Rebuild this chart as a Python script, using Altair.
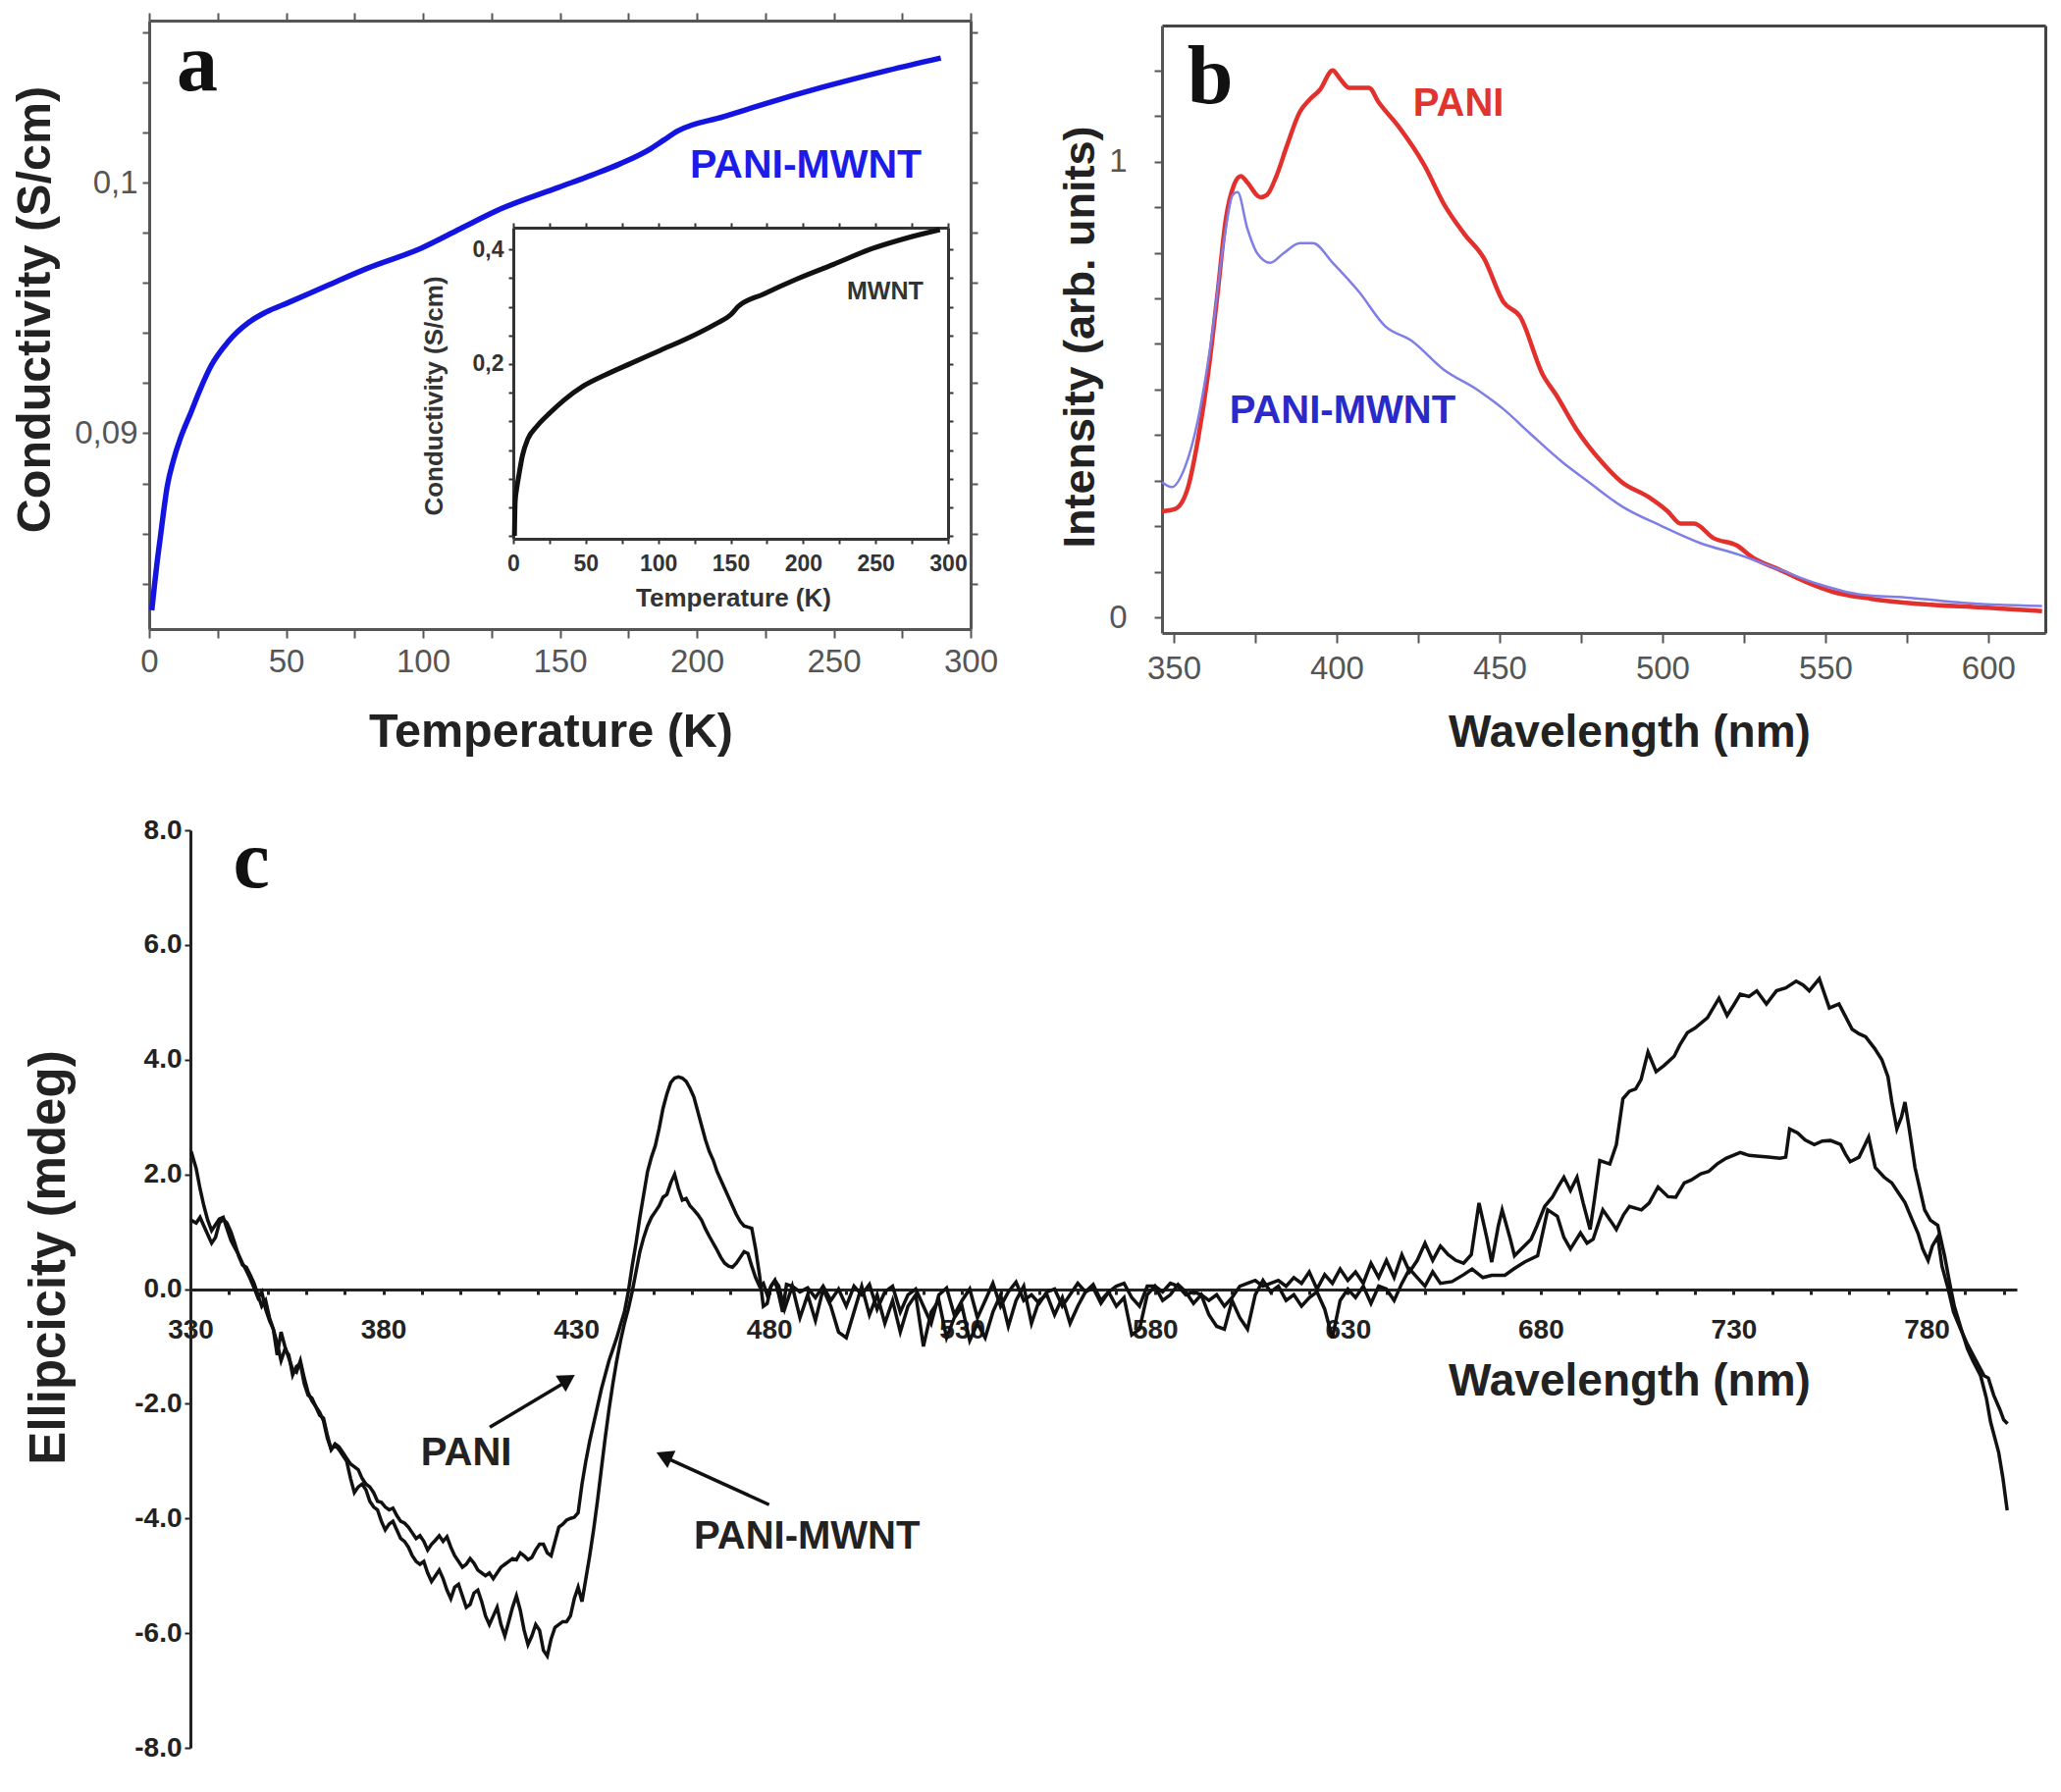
import json
import altair as alt
import pandas as pd

W, H = 2080, 1800
SANS = "Liberation Sans"
SERIF = "Liberation Serif"

# ---------------- Panel a : PANI-MWNT conductivity ----------------
a_temp = [0.96, 2.0, 3.0, 4.1, 5.3, 6.5, 8.8, 11.3, 13.0, 14.9, 18.5, 22.6, 28.9, 36.6, 42.6, 51.0,
          65.4, 79.9, 99.1, 113.5, 128.0, 149.6, 161.7, 172.0, 183.3, 188.0, 192.9, 209.8, 224.2,
          245.8, 269.9, 289.1]
a_cond = [0.08294, 0.08400, 0.08495, 0.08587, 0.08690, 0.08782, 0.08890, 0.08977, 0.09025, 0.09074,
          0.09172, 0.09269, 0.09366, 0.09444, 0.09483, 0.09522, 0.09591, 0.09659, 0.09737, 0.09815,
          0.09893, 0.09981, 0.10030, 0.10075, 0.10136, 0.10170, 0.10205, 0.10263, 0.10312, 0.10380,
          0.10448, 0.10497]
a_x_ticks = [0, 25, 50, 75, 100, 125, 150, 175, 200, 225, 250, 275, 300]
a_x_labels = [0, 50, 100, 150, 200, 250, 300]
a_y_ticks = [0.082, 0.084, 0.086, 0.088, 0.09, 0.092, 0.094, 0.096, 0.098, 0.1, 0.102, 0.104, 0.106]
a_y_labels = [0.09, 0.1]
a_x_domain = [0, 300]
a_y_domain = [0.08219, 0.10646]
a_series_label = ["PANI-MWNT"]
a_series_pos = [(239.8, 0.10067)]
a_letter = ["a"]
a_letter_pos = [(17.6, 0.10368)]

# inset : MWNT conductivity
in_temp = [0.8, 1.3, 2.5, 3.8, 6.3, 10, 16.5, 25.4, 35.5, 48, 63.5, 81, 101.5, 122, 139.6, 150,
           155, 172.6, 195.4, 221, 246, 271.6, 294.4]
in_cond = [-0.100, -0.041, -0.015, 0.005, 0.040, 0.069, 0.092, 0.115, 0.138, 0.161, 0.181, 0.201,
           0.224, 0.247, 0.270, 0.286, 0.300, 0.322, 0.348, 0.374, 0.400, 0.420, 0.4346]
in_x_ticks = [0, 25, 50, 75, 100, 125, 150, 175, 200, 225, 250, 275, 300]
in_x_labels = [0, 50, 100, 150, 200, 250, 300]
in_y_ticks = [-0.1, -0.05, 0, 0.05, 0.1, 0.15, 0.2, 0.25, 0.3, 0.35, 0.4]
in_y_labels = [0.2, 0.4]
in_x_domain = [0, 300]
in_y_domain = [-0.105, 0.438]
in_label = ["MWNT"]
in_label_pos = [(256.6, 0.3267)]

# ---------------- Panel b : photoluminescence ----------------
b_pani_wl = [346.4, 350.4, 354.4, 357.5, 360.5, 363.5, 366.0, 368.5, 370.6, 372.6, 376.6, 378.6,
             381.6, 384.7, 388.7, 391.7, 394.8, 398.8, 400.8, 403.8, 409.9, 412.9, 419.0, 427.0,
             433.0, 439.1, 445.2, 451.2, 456.3, 463.3, 467.3, 473.4, 481.5, 487.5, 495.6, 501.6,
             505.6, 509.7, 515.7, 522.8, 527.8, 535.9, 544.0, 552.0, 564.1, 578.2, 598.4, 616.5]
b_pani_int = [0.233, 0.238, 0.286, 0.393, 0.532, 0.714, 0.874, 0.949, 0.968, 0.954, 0.922, 0.927,
              0.970, 1.034, 1.109, 1.136, 1.157, 1.200, 1.184, 1.162, 1.162, 1.130, 1.077, 0.991,
              0.906, 0.842, 0.788, 0.692, 0.660, 0.532, 0.489, 0.415, 0.340, 0.297, 0.265, 0.233,
              0.206, 0.206, 0.174, 0.158, 0.131, 0.105, 0.078, 0.057, 0.041, 0.030, 0.022, 0.014]
b_mwnt_wl = [346.4, 349.4, 353.4, 357.5, 361.5, 365.5, 368.1, 369.6, 372.6, 375.6, 379.6, 383.7,
             388.7, 392.7, 398.8, 406.9, 414.9, 423.0, 433.0, 443.1, 451.2, 459.3, 469.4, 477.4,
             487.5, 499.6, 511.7, 523.8, 535.9, 548.0, 560.1, 576.2, 592.3, 616.5]
b_mwnt_int = [0.297, 0.286, 0.329, 0.436, 0.607, 0.831, 0.927, 0.933, 0.853, 0.799, 0.778, 0.799,
              0.821, 0.821, 0.778, 0.714, 0.639, 0.607, 0.543, 0.500, 0.457, 0.404, 0.340, 0.297,
              0.244, 0.201, 0.163, 0.137, 0.105, 0.073, 0.051, 0.043, 0.032, 0.025]
b_x_ticks = [350, 375, 400, 425, 450, 475, 500, 525, 550, 575, 600]
b_x_labels = [350, 400, 450, 500, 550, 600]
b_y_ticks = [0, 0.1, 0.2, 0.3, 0.4, 0.5, 0.6, 0.7, 0.8, 0.9, 1.0, 1.1, 1.2]
b_y_labels = [0, 1]
b_x_domain = [346.4, 617.5]
b_y_domain = [-0.034, 1.2985]
b_pani_label = ["PANI"]
b_pani_label_pos = [(437.4, 1.126)]
b_mwnt_label = ["PANI-MWNT"]
b_mwnt_label_pos = [(401.8, 0.4527)]
b_letter = ["b"]
b_letter_pos = [(361.2, 1.1285)]

# ---------------- Panel c : circular dichroism ----------------
c_pani = [
    (330.2, 2.40), (331.5, 2.10), (332.5, 1.75), (333.5, 1.45), (334.5, 1.20), (335.5, 1.02),
    (336.5, 1.12), (337.5, 1.22), (338.5, 1.25), (339.5, 1.05), (340.5, 0.85), (341.5, 0.72),
    (342.5, 0.60), (343.5, 0.45), (344.5, 0.32), (345.5, 0.18), (346.5, 0.02), (347.5, -0.15),
    (348.5, -0.05), (349.5, -0.35), (350.5, -0.55), (351.5, -0.70), (352.5, -1.15), (353.5, -0.75),
    (354.5, -1.00), (355.5, -1.20), (356.5, -1.40), (357.5, -1.45), (358.5, -1.25), (359.5, -1.55),
    (360.5, -1.80), (361.5, -1.95), (362.5, -2.05), (363.5, -2.15), (364.5, -2.30), (365.5, -2.60),
    (366.5, -2.80), (367.5, -2.70), (368.5, -2.75), (369.5, -2.85), (370.5, -2.95), (371.5, -3.05),
    (372.5, -3.10), (373.5, -3.15), (374.5, -3.30), (375.5, -3.40), (376.5, -3.45), (377.5, -3.55),
    (378.5, -3.70), (379.5, -3.72), (380.5, -3.80), (381.5, -3.85), (382.5, -3.82), (383.5, -3.95),
    (384.5, -4.05), (385.5, -4.08), (386.5, -4.15), (387.5, -4.25), (388.5, -4.35), (389.5, -4.30),
    (390.5, -4.40), (391.5, -4.55), (392.5, -4.45), (393.5, -4.38), (394.5, -4.30), (395.5, -4.40),
    (396.5, -4.32), (397.5, -4.50), (398.5, -4.65), (399.5, -4.75), (400.5, -4.85), (401.5, -4.80),
    (402.5, -4.70), (403.5, -4.78), (404.5, -4.90), (405.5, -4.95), (406.5, -5.00), (407.5, -4.95),
    (408.5, -5.05), (409.5, -4.95), (410.5, -4.85), (411.5, -4.80), (412.5, -4.75), (413.5, -4.70),
    (414.5, -4.72), (415.5, -4.60), (416.5, -4.65), (417.5, -4.72), (418.5, -4.68), (419.5, -4.55),
    (420.5, -4.45), (421.5, -4.45), (422.5, -4.60), (423.5, -4.65), (424.5, -4.40), (425.5, -4.15),
    (426.5, -4.10), (427.5, -4.03), (428.5, -4.00), (429.5, -3.98), (430.5, -3.90), (431.5, -3.40),
    (432.5, -3.00), (433.5, -2.65), (434.5, -2.35), (435.5, -2.05), (436.5, -1.75), (437.5, -1.50),
    (438.5, -1.25), (439.5, -1.05), (440.5, -0.85), (441.5, -0.62), (442.5, -0.40), (443.5, -0.05),
    (444.5, 0.40), (445.5, 0.80), (446.5, 1.25), (447.5, 1.65), (448.5, 2.05), (449.5, 2.30),
    (450.5, 2.50), (451.5, 2.80), (452.5, 3.15), (453.5, 3.40), (454.5, 3.60), (455.5, 3.68),
    (456.5, 3.70), (457.5, 3.68), (458.5, 3.62), (459.5, 3.50), (460.5, 3.35), (461.5, 3.10),
    (462.5, 2.85), (463.5, 2.60), (464.5, 2.40), (465.5, 2.25), (466.5, 2.05), (467.5, 1.90),
    (468.5, 1.75), (469.5, 1.60), (470.5, 1.45), (471.5, 1.30), (472.5, 1.18), (473.5, 1.10),
    (474.5, 1.08), (475.5, 1.06), (476.5, 0.70), (477.5, 0.25), (478.5, -0.30), (479.5, -0.25),
    (480.5, 0.05), (481.5, 0.15), (482.5, -0.10), (483.5, -0.40), (484.5, 0.08),
    (486, 0.05), (488, -0.05), (490, 0.02), (492, -0.15), (494, 0.05), (496, -0.2), (498, 0.0),
    (500, -0.3), (502, 0.05), (504, -0.1), (506, 0.08), (508, -0.35), (510, -0.05), (512, 0.05),
    (514, -0.4), (516, -0.1), (518, 0.0), (520, -0.3), (522, -0.6), (524, -0.1), (526, 0.02),
    (528, -0.45), (530, -0.2), (532, 0.0), (534, -0.5), (536, -0.2), (538, 0.1), (540, -0.3),
    (542, -0.05), (544, 0.12), (546, -0.2), (548, -0.1), (550, -0.25), (552, -0.05), (554, 0.0),
    (556, -0.3), (558, -0.1), (560, 0.1), (562, -0.05), (564, 0.02), (566, -0.25), (568, -0.05),
    (570, 0.05), (572, 0.1), (574, -0.15), (576, -0.3), (578, 0.05), (580, 0.05), (582, -0.05),
    (584, 0.1), (586, 0.05), (588, -0.1), (590, -0.05), (592, -0.1), (594, -0.2), (596, -0.1),
    (598, -0.3), (600, -0.15), (602, 0.05), (604, 0.1), (606, 0.15), (608, 0.05), (610, 0.1),
    (612, 0.15), (614, 0.05), (616, 0.2), (618, 0.1), (620, 0.3), (622, 0.0), (624, 0.25),
    (626, 0.1), (628, 0.35), (630, 0.15), (632, 0.3), (634, 0.1), (636, 0.45), (638, 0.2),
    (640, 0.5), (642, 0.2), (644, 0.6), (646, 0.3), (648, 0.5), (650, 0.8), (652, 0.5),
    (654, 0.75), (656, 0.6), (658, 0.5), (660, 0.45), (662, 0.6), (664, 1.5), (666, 0.9),
    (667.3, 0.47), (669, 1.1), (670, 1.38), (672, 0.9), (673.2, 0.58), (675, 0.7), (677.5, 0.87),
    (679, 1.1), (681, 1.44), (683, 1.6), (684.5, 1.78), (686, 1.95), (687.7, 1.72), (689.4, 1.95),
    (691, 1.5), (692.8, 1.04), (694, 1.6), (695.3, 2.24), (697.9, 2.18), (699.6, 2.52),
    (701.3, 3.32), (703, 3.45), (704.6, 3.49), (706, 3.65), (707.8, 4.13), (709.9, 3.79),
    (712, 3.9), (714.6, 4.06), (716, 4.25), (718, 4.47), (720, 4.55), (723.2, 4.73), (726.2, 5.07),
    (728.3, 4.77), (730, 4.95), (731.7, 5.14), (734, 5.1), (736, 5.2), (738.5, 4.97), (741.1, 5.2),
    (743.5, 5.25), (746.2, 5.37), (748, 5.3), (749.6, 5.2), (752.2, 5.41), (754.8, 4.9),
    (757.3, 4.97), (759, 4.75), (760.7, 4.53), (762.5, 4.45), (764.2, 4.4), (766.5, 4.2),
    (768.4, 4.0), (770, 3.7), (771, 3.26), (772.3, 2.79), (773.5, 3.0), (774.4, 3.26), (775.5, 2.8),
    (777, 2.12), (779.5, 1.38), (781, 1.2), (782.9, 1.11), (784.7, 0.57), (786, 0.1), (787.2, -0.3),
    (789, -0.7), (790.6, -1.04), (792, -1.25), (794, -1.51), (795.5, -1.9), (796.6, -2.32),
    (798.7, -2.85), (799.8, -3.3), (800.9, -3.86)]

c_mwnt = [
    (330.2, 1.20), (331.5, 1.15), (332.5, 1.25), (333.5, 1.10), (334.5, 0.95), (335.5, 0.80),
    (336.5, 0.90), (337.5, 1.15), (338.5, 1.22), (339.5, 1.15), (340.5, 1.00), (341.5, 0.80),
    (342.5, 0.58), (343.5, 0.42), (344.5, 0.38), (345.5, 0.25), (346.5, 0.10), (347.5, -0.10),
    (348.5, -0.30), (349.5, -0.20), (350.5, -0.50), (351.5, -0.70), (352.5, -0.95), (353.5, -1.25),
    (354.5, -1.05), (355.5, -1.15), (356.5, -1.50), (357.5, -1.35), (358.5, -1.30), (359.5, -1.65),
    (360.5, -1.85), (361.5, -1.90), (362.5, -2.05), (363.5, -2.20), (364.5, -2.25), (365.5, -2.55),
    (366.5, -2.80), (367.5, -2.72), (368.5, -2.80), (369.5, -2.90), (370.5, -3.00), (371.5, -3.30),
    (372.5, -3.55), (373.5, -3.45), (374.5, -3.40), (375.5, -3.50), (376.5, -3.70), (377.5, -3.80),
    (378.5, -3.85), (379.5, -4.05), (380.5, -4.20), (381.5, -4.10), (382.5, -4.05), (383.5, -4.20),
    (384.5, -4.35), (385.5, -4.40), (386.5, -4.50), (387.5, -4.65), (388.5, -4.75), (389.5, -4.80),
    (390.5, -4.75), (391.5, -4.95), (392.5, -5.10), (393.5, -5.00), (394.5, -4.90), (395.5, -5.05),
    (396.5, -5.25), (397.5, -5.40), (398.5, -5.20), (399.5, -5.15), (400.5, -5.35), (401.5, -5.55),
    (402.5, -5.50), (403.5, -5.30), (404.5, -5.25), (405.5, -5.45), (406.5, -5.70), (407.5, -5.85),
    (408.5, -5.70), (409.5, -5.55), (410.5, -5.85), (411.5, -6.05), (412.5, -5.80), (413.5, -5.55),
    (414.5, -5.35), (415.5, -5.60), (416.5, -5.95), (417.5, -6.20), (418.5, -6.05), (419.5, -5.85),
    (420.5, -5.95), (421.5, -6.30), (422.5, -6.40), (423.5, -6.10), (424.5, -5.90), (425.5, -5.85),
    (426.5, -5.80), (427.5, -5.80), (428.5, -5.70), (429.5, -5.40), (430.5, -5.20), (431.5, -5.45),
    (432.5, -5.05), (433.5, -4.65), (434.5, -4.20), (435.5, -3.70), (436.5, -3.15), (437.5, -2.60),
    (438.5, -2.10), (439.5, -1.65), (440.5, -1.25), (441.5, -0.90), (442.5, -0.60), (443.5, -0.35),
    (444.5, -0.05), (445.5, 0.30), (446.5, 0.65), (447.5, 0.90), (448.5, 1.10), (449.5, 1.25),
    (450.5, 1.35), (451.5, 1.45), (452.5, 1.60), (453.5, 1.65), (454.5, 1.85), (455.5, 2.00),
    (456.5, 1.75), (457.5, 1.55), (458.5, 1.58), (459.5, 1.45), (460.5, 1.38), (461.5, 1.30),
    (462.5, 1.20), (463.5, 1.05), (464.5, 0.92), (465.5, 0.80), (466.5, 0.68), (467.5, 0.55),
    (468.5, 0.45), (469.5, 0.40), (470.5, 0.38), (471.5, 0.45), (472.5, 0.55), (473.5, 0.65),
    (474.5, 0.62), (475.5, 0.40), (476.5, 0.20), (477.5, 0.05), (478.5, 0.10), (479.5, -0.10),
    (480.5, 0.05), (481.5, 0.15), (482.5, 0.05),
    (484, -0.35), (486, 0.05), (488, -0.5), (490, -0.1), (492, -0.55), (494, 0.0), (496, -0.3),
    (498, -0.75), (500, -0.85), (502, -0.4), (504, 0.05), (506, -0.45), (508, -0.1), (510, -0.6),
    (512, -0.2), (514, -0.75), (516, -0.3), (518, -0.1), (520, -1.0), (522, -0.4), (524, -0.2),
    (526, -0.85), (528, -0.5), (530, -0.3), (532, -0.9), (534, -0.6), (536, -0.85), (538, -0.4),
    (540, -0.1), (542, -0.65), (544, -0.2), (546, 0.05), (548, -0.6), (550, -0.2), (552, -0.1),
    (554, -0.45), (556, -0.15), (558, -0.6), (560, -0.3), (562, -0.05), (564, 0.08), (566, -0.2),
    (568, -0.05), (570, -0.3), (572, -0.15), (574, -0.8), (576, -0.7), (578, -0.1), (580, 0.05),
    (582, -0.2), (584, -0.1), (586, 0.08), (588, -0.05), (590, -0.25), (592, -0.1), (594, -0.45),
    (596, -0.65), (598, -0.7), (600, -0.2), (602, -0.5), (604, -0.7), (606, -0.1), (608, 0.15),
    (610, -0.05), (612, 0.05), (614, -0.2), (616, -0.1), (618, -0.3), (620, -0.15), (622, -0.05),
    (624, -0.35), (626, -0.85), (628, -0.2), (630, 0.0), (632, -0.15), (634, 0.05), (636, -0.25),
    (638, 0.05), (640, 0.0), (642, -0.2), (644, 0.1), (646, 0.35), (648, 0.2), (650, 0.05),
    (652, 0.3), (654, 0.1), (657, 0.13), (660, 0.25), (662.2, 0.35), (665, 0.2), (667.3, 0.24),
    (670.7, 0.24), (673, 0.35), (675.8, 0.47), (679.2, 0.58), (681.8, 1.38), (684.3, 1.27),
    (686, 0.9), (687.7, 0.7), (690.3, 0.98), (692, 0.8), (693.6, 0.87), (696.1, 1.38), (698, 1.2),
    (699.6, 1.04), (701.5, 1.3), (703, 1.44), (706.1, 1.38), (708.1, 1.5), (710.4, 1.78),
    (713, 1.61), (715, 1.6), (717.2, 1.85), (719, 1.9), (721.5, 2.01), (723.5, 2.05), (725.7, 2.18),
    (728, 2.28), (731.7, 2.38), (734, 2.33), (736, 2.32), (739, 2.3), (742, 2.28), (743.5, 2.3),
    (744.5, 2.79), (746.6, 2.72), (748.5, 2.6), (750.9, 2.52), (753, 2.58), (755.1, 2.59),
    (757.7, 2.52), (759, 2.35), (760.2, 2.22), (762.5, 2.3), (765, 2.65), (766.7, 2.12), (769, 1.95),
    (771, 1.85), (772.5, 1.7), (774.4, 1.51), (776, 1.25), (777.8, 0.97), (779, 0.7), (780.4, 0.5),
    (781.5, 0.75), (782.9, 0.91), (784, 0.4), (785.5, 0.03), (787, -0.4), (788.9, -0.71),
    (790.5, -0.95), (792.3, -1.18), (794.9, -1.51), (796, -1.55), (797.4, -1.85), (799, -2.1),
    (800, -2.28), (801, -2.35)]

c_x_ticks = list(range(330, 801, 10))
c_x_labels = [330, 380, 430, 480, 530, 580, 630, 680, 730, 780]
c_y_ticks = [-8, -6, -4, -2, 0, 2, 4, 6, 8]
c_x_domain = [330, 803.4]
c_y_domain = [-8, 8]
c_labels = ["PANI", "PANI-MWNT"]
c_label_pos = [(401.5, -2.86), (489.8, -4.32)]
c_arrow1 = [(407.6, -2.41, 426.5, -1.65)]
c_arrow2 = [(480.0, -3.76, 454.5, -2.98)]
c_head1 = [(427.2, -1.60)]
c_head2 = [(453.4, -2.93)]
c_letter = ["c"]
c_letter_pos = [(345.8, 7.0)]

# ---------------- helpers ----------------
def sc(domain, rng):
    return alt.Scale(domain=domain, range=rng, nice=False, zero=False)


def make_axis(orient, offset, values, major=None, fmt="datum.label", labels=True,
              ticks=True, tick_size=8, tick_width=2, color="#555", label_size=33,
              label_color="#555", label_weight="normal", label_pad=6, title=None,
              title_size=46, title_x=None, title_y=None, title_color="#222",
              title_weight="bold", domain_width=3):
    kw = dict(orient=orient, offset=offset, grid=False, domain=True, domainColor=color,
              domainWidth=domain_width, values=values)
    if labels:
        kw.update(labels=True, labelFont=SANS, labelFontSize=label_size, labelColor=label_color,
                  labelFontWeight=label_weight, labelPadding=label_pad, labelFlush=False,
                  labelOverlap=False)
        if major is not None:
            kw["labelExpr"] = f"indexof({json.dumps(major)}, datum.value) >= 0 ? {fmt} : ''"
        else:
            kw["labelExpr"] = fmt
    else:
        kw["labels"] = False
    if ticks:
        kw.update(ticks=True, tickSize=tick_size, tickWidth=tick_width, tickColor=color)
    else:
        kw["ticks"] = False
    if title is not None:
        kw.update(title=title, titleFont=SANS, titleFontSize=title_size,
                  titleFontWeight=title_weight, titleColor=title_color, titleX=title_x,
                  titleY=title_y, titleBaseline="middle", titleAlign="center")
        if orient in ("left", "right"):
            kw["titleAngle"] = 270
    else:
        kw["title"] = None
    return alt.Axis(**kw)


def pos_df(pos, labels=None):
    d = pd.DataFrame(pos, columns=["x", "y"])
    if labels is not None:
        d["label"] = labels
    return d


def text_layer(df, xs, ys, color, size, font=SANS, weight="bold", baseline="middle",
               xaxis=None, yaxis=None):
    return alt.Chart(df).mark_text(color=color, fontSize=size, font=font, fontWeight=weight,
                                   baseline=baseline, align="center").encode(
        x=alt.X("x:Q", scale=xs, axis=xaxis),
        y=alt.Y("y:Q", scale=ys, axis=yaxis),
        text="label:N",
    )


layers = []

# ---------------- Panel a ----------------
ax_sc = sc(a_x_domain, [144, 981])
ay_sc = sc(a_y_domain, [633, 13])
df_a = pd.DataFrame({"T": a_temp, "cond": a_cond})
layers.append(
    alt.Chart(df_a).mark_line(color="#1414e0", strokeWidth=5.5, interpolate="monotone").encode(
        x=alt.X("T:Q", scale=ax_sc, axis=make_axis(
            "bottom", 633 - H, a_x_ticks, a_x_labels, "format(datum.value, 'd')",
            tick_size=9, label_pad=8, title="Temperature (K)", title_size=48.5, title_x=553,
            title_y=104)),
        y=alt.Y("cond:Q", scale=ay_sc, axis=make_axis(
            "left", -144, a_y_ticks, a_y_labels, "replace(format(datum.value, '.2~f'), '.', ',')",
            tick_size=7, label_pad=5, title="Conductivity (S/cm)", title_size=48.5,
            title_x=-117, title_y=307)),
    )
)
layers.append(text_layer(
    pos_df(a_series_pos, a_series_label), ax_sc, ay_sc, "#1c1ce8", 41,
    xaxis=make_axis("top", -13, a_x_ticks, labels=False, tick_size=8),
    yaxis=make_axis("right", 981 - W, a_y_ticks, labels=False, tick_size=7)))
layers.append(text_layer(pos_df(a_letter_pos, a_letter), ax_sc, ay_sc, "#111", 84, font=SERIF,
                         baseline="alphabetic"))

# inset
ix_sc = sc(in_x_domain, [515, 958])
iy_sc = sc(in_y_domain, [541, 224])
df_in = pd.DataFrame({"T": in_temp, "cond": in_cond})
layers.append(
    alt.Chart(df_in).mark_line(color="#111", strokeWidth=5, interpolate="monotone").encode(
        x=alt.X("T:Q", scale=ix_sc, axis=make_axis(
            "bottom", 541 - H, in_x_ticks, in_x_labels, "format(datum.value, 'd')",
            tick_size=5, color="#333", label_size=23, label_color="#333", label_weight="bold",
            label_pad=9, title="Temperature (K)", title_size=26, title_x=739, title_y=60,
            title_color="#333")),
        y=alt.Y("cond:Q", scale=iy_sc, axis=make_axis(
            "left", -515, in_y_ticks, in_y_labels, "replace(format(datum.value, '.1~f'), '.', ',')",
            tick_size=5, color="#333", label_size=23, label_color="#333", label_weight="bold",
            label_pad=5, title="Conductivity (S/cm)", title_size=26, title_x=-81, title_y=395,
            title_color="#333")),
    )
)
layers.append(text_layer(
    pos_df(in_label_pos, in_label), ix_sc, iy_sc, "#333", 25,
    xaxis=make_axis("top", -224, in_x_ticks, labels=False, tick_size=5, color="#333"),
    yaxis=make_axis("right", 958 - W, in_y_ticks, labels=False, tick_size=5, color="#333")))

# ---------------- Panel b ----------------
bx_sc = sc(b_x_domain, [1176, 2076])
by_sc = sc(b_y_domain, [637, 18])
df_bp = pd.DataFrame({"wl": b_pani_wl, "I": b_pani_int})
df_bm = pd.DataFrame({"wl": b_mwnt_wl, "I": b_mwnt_int})
layers.append(
    alt.Chart(df_bp).mark_line(color="#e2302c", strokeWidth=4.5, interpolate="monotone").encode(
        x=alt.X("wl:Q", scale=bx_sc, axis=make_axis(
            "bottom", 637 - H, b_x_ticks, b_x_labels, "format(datum.value, 'd')",
            tick_size=10, label_pad=10, title="Wavelength (nm)", title_x=1652, title_y=101)),
        y=alt.Y("I:Q", scale=by_sc, axis=make_axis(
            "left", -1176, b_y_ticks, b_y_labels, "format(datum.value, '~g')",
            tick_size=8, label_pad=28, title="Intensity (arb. units)", title_size=45,
            title_x=-84, title_y=335)),
    )
)
layers.append(
    alt.Chart(df_bm).mark_line(color="#7e7ee6", strokeWidth=2.5, interpolate="monotone").encode(
        x=alt.X("wl:Q", scale=bx_sc, axis=None),
        y=alt.Y("I:Q", scale=by_sc, axis=None),
    )
)
layers.append(text_layer(
    pos_df(b_pani_label_pos, b_pani_label), bx_sc, by_sc, "#e0342f", 40,
    xaxis=make_axis("top", -18, b_x_ticks, labels=False, ticks=False, color="#444"),
    yaxis=make_axis("right", 2076 - W, b_y_ticks, labels=False, ticks=False, color="#444")))
layers.append(text_layer(pos_df(b_mwnt_label_pos, b_mwnt_label), bx_sc, by_sc, "#2a2ac8", 40))
layers.append(text_layer(pos_df(b_letter_pos, b_letter), bx_sc, by_sc, "#111", 84, font=SERIF,
                         baseline="alphabetic"))

# ---------------- Panel c ----------------
cx_sc = sc(c_x_domain, [186, 2047])
cy_sc = sc(c_y_domain, [1773, 838])
df_cp = pd.DataFrame(c_pani, columns=["wl", "val"])
df_cm = pd.DataFrame(c_mwnt, columns=["wl", "val"])
layers.append(
    alt.Chart(df_cp).mark_line(color="#111", strokeWidth=3.5).encode(
        x=alt.X("wl:Q", scale=cx_sc, axis=make_axis(
            "bottom", 1306 - H, c_x_ticks, c_x_labels, "format(datum.value, 'd')",
            tick_size=5, tick_width=3, color="#222", label_size=28, label_color="#222",
            label_weight="bold", label_pad=22, title="Wavelength (nm)", title_x=1652,
            title_y=93)),
        y=alt.Y("val:Q", scale=cy_sc, axis=make_axis(
            "left", -186, c_y_ticks, None, "replace(format(datum.value, '.1f'), '\u2212', '-')",
            tick_size=6, color="#222", label_size=28, label_color="#222", label_weight="bold",
            label_pad=3, title="Ellipcicity (mdeg)", title_size=51, title_x=-144,
            title_y=1273)),
    )
)
layers.append(
    alt.Chart(df_cm).mark_line(color="#111", strokeWidth=3.5).encode(
        x=alt.X("wl:Q", scale=cx_sc, axis=None),
        y=alt.Y("val:Q", scale=cy_sc, axis=None),
    )
)
layers.append(text_layer(pos_df(c_label_pos, c_labels), cx_sc, cy_sc, "#222", 40))
for arrow, head, ang in ((c_arrow1, c_head1, 58.5), (c_arrow2, c_head2, 294.7)):
    adf = pd.DataFrame(arrow, columns=["x", "y", "x2", "y2"])
    layers.append(
        alt.Chart(adf).mark_rule(color="#111", strokeWidth=3.5).encode(
            x=alt.X("x:Q", scale=cx_sc, axis=None),
            y=alt.Y("y:Q", scale=cy_sc, axis=None),
            x2="x2:Q", y2="y2:Q",
        )
    )
    layers.append(
        alt.Chart(pos_df(head)).mark_point(shape="triangle", filled=True, color="#111",
                                           size=380, angle=ang, opacity=1).encode(
            x=alt.X("x:Q", scale=cx_sc, axis=None),
            y=alt.Y("y:Q", scale=cy_sc, axis=None),
        )
    )
layers.append(text_layer(pos_df(c_letter_pos, c_letter), cx_sc, cy_sc, "#111", 84, font=SERIF,
                         baseline="alphabetic"))

chart = alt.layer(*layers).resolve_scale(
    x="independent", y="independent"
).resolve_axis(
    x="independent", y="independent"
).properties(
    width=W, height=H, padding=0, autosize=alt.AutoSizeParams(type="none"),
    background="white",
).configure_view(stroke=None)

chart.save("out.html", embed_options={"renderer": "svg", "actions": False})
